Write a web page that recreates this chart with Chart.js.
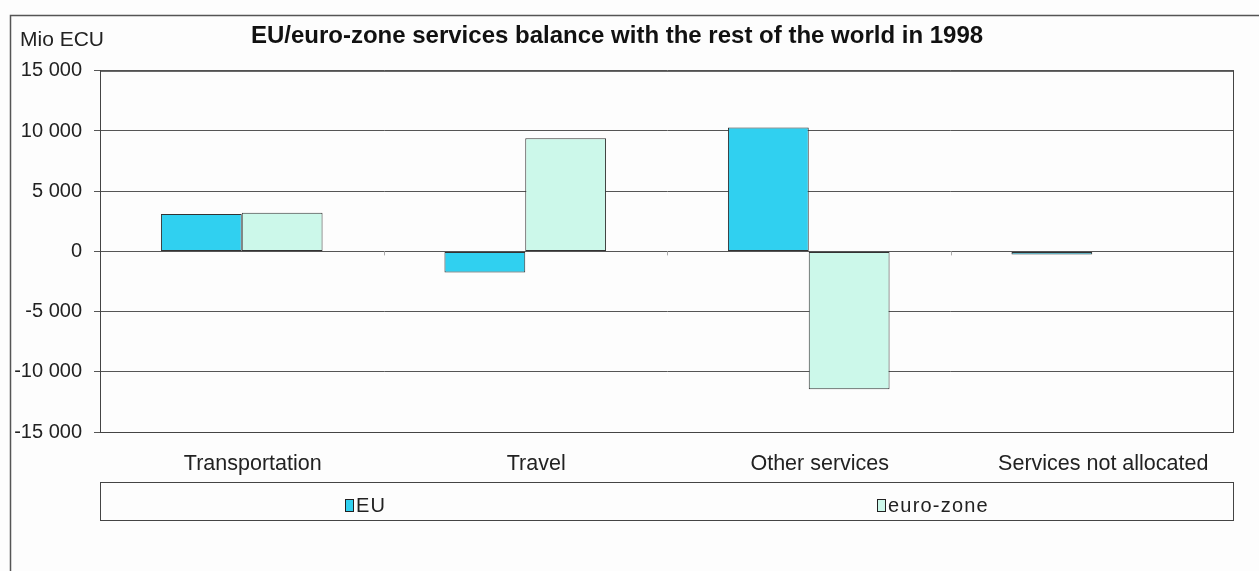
<!DOCTYPE html>
<html>
<head>
<meta charset="utf-8">
<script src="https://cdn.jsdelivr.net/npm/chart.js@4"></script>
<style>
  html, body { margin: 0; padding: 0; background: #fdfdfd; }
  #wrap { position: relative; width: 1259px; height: 571px; }
  #legend {
    position: absolute; left: 100px; top: 482px; width: 1134px; height: 39px;
    border: 1px solid #444; box-sizing: border-box;
    font-family: "Liberation Sans", Arial, sans-serif; font-size: 20px; color: #222;
  }
  .item { position: absolute; top: 11px; letter-spacing: 1.2px; line-height: 22px; }
  .swatch {
    display: inline-block; width: 7px; height: 11px; border: 1px solid #222;
    margin-right: 2px; vertical-align: 0px;
  }
</style>
</head>
<body>
<div id="wrap">
  <canvas id="chart" width="1259" height="571"></canvas>
  <div id="legend"></div>
</div>
<script>
// Data
const categories = ["Transportation", "Travel", "Other services", "Services not allocated"];
const euValues = [3100, -1750, 10300, -250];
const euroZoneValues = [3200, 9400, -11450, 0];
const yTicks = [15000, 10000, 5000, 0, -5000, -10000, -15000];

const euColor = "#30d0f0";
const euroZoneColor = "#ccf8ea";
const fontFamily = '"Liberation Sans", Arial, sans-serif';

function fmt(v) {
  const s = Math.abs(v).toString().replace(/\B(?=(\d{3})+(?!\d))/g, " ");
  return (v < 0 ? "-" : "") + s;
}

// outer frame, plot border, unit label and small ticks on the zero line
const decorations = {
  id: "decorations",
  afterDraw(chart) {
    const { ctx, chartArea: a, scales } = chart;
    ctx.save();
    ctx.strokeStyle = "#555";
    ctx.lineWidth = 1.5;
    ctx.beginPath();
    ctx.moveTo(1259, 15.5);
    ctx.lineTo(10.5, 15.5);
    ctx.lineTo(10.5, 571);
    ctx.stroke();

    ctx.lineWidth = 1;
    ctx.strokeStyle = "#444";
    ctx.strokeRect(a.left + 0.5, a.top + 0.5, a.right - a.left - 1, a.bottom - a.top);

    const y0 = scales.y.getPixelForValue(0);
    ctx.strokeStyle = "#aaa";
    for (let i = 0; i < categories.length - 1; i++) {
      const x = Math.round((scales.x.getPixelForTick(i) + scales.x.getPixelForTick(i + 1)) / 2) + 0.5;
      ctx.beginPath();
      ctx.moveTo(x, y0);
      ctx.lineTo(x, y0 + 4);
      ctx.stroke();
    }

    ctx.fillStyle = "#222";
    ctx.font = "21px " + fontFamily;
    ctx.textBaseline = "middle";
    ctx.textAlign = "left";
    ctx.fillText("Mio ECU", 20, 40);
    ctx.restore();
  },
};

const ctx = document.getElementById("chart").getContext("2d");
new Chart(ctx, {
  type: "bar",
  data: {
    labels: categories,
    datasets: [
      {
        label: "EU",
        data: euValues,
        backgroundColor: euColor,
        borderColor: "#333",
        borderWidth: 1,
        borderSkipped: false,
      },
      {
        label: "euro-zone",
        data: euroZoneValues,
        backgroundColor: euroZoneColor,
        borderColor: "#333",
        borderWidth: 1,
        borderSkipped: false,
      },
    ],
  },
  options: {
    responsive: false,
    animation: false,
    layout: { padding: { left: 0, right: 25, top: 0, bottom: 89 } },
    datasets: { bar: { categoryPercentage: 0.57, barPercentage: 1.0 } },
    plugins: {
      legend: { display: false },
      tooltip: { enabled: false },
      title: {
        display: true,
        text: "EU/euro-zone services balance with the rest of the world in 1998",
        color: "#111",
        font: { family: fontFamily, size: 24, weight: "bold" },
        padding: { top: 22, bottom: 20 },
      },
    },
    scales: {
      x: {
        grid: { display: false, drawTicks: false },
        border: { display: false },
        ticks: {
          color: "#222",
          padding: 19,
          labelOffset: 11,
          maxRotation: 0,
          font: { family: fontFamily, size: 21.5 },
        },
        afterFit(scale) { scale.height = 50; },
      },
      y: {
        min: -15000,
        max: 15000,
        afterBuildTicks(scale) { scale.ticks = yTicks.map((v) => ({ value: v })); },
        grid: { color: "#555", lineWidth: 1, tickLength: 6 },
        border: { display: true, color: "#444" },
        ticks: {
          color: "#222",
          padding: 12,
          font: { family: fontFamily, size: 20 },
          callback: (v) => fmt(v),
        },
        afterFit(scale) { scale.width = 100; },
      },
    },
  },
  plugins: [decorations],
});

// legend
const legend = document.getElementById("legend");
const legendItems = [
  { text: "EU", color: euColor, left: 244 },
  { text: "euro-zone", color: euroZoneColor, left: 776 },
];
legend.innerHTML = legendItems
  .map(
    (item) => `
    <span class="item" style="left:${item.left}px">
      <span class="swatch" style="background:${item.color}"></span>${item.text}
    </span>`
  )
  .join("");
</script>
</body>
</html>
